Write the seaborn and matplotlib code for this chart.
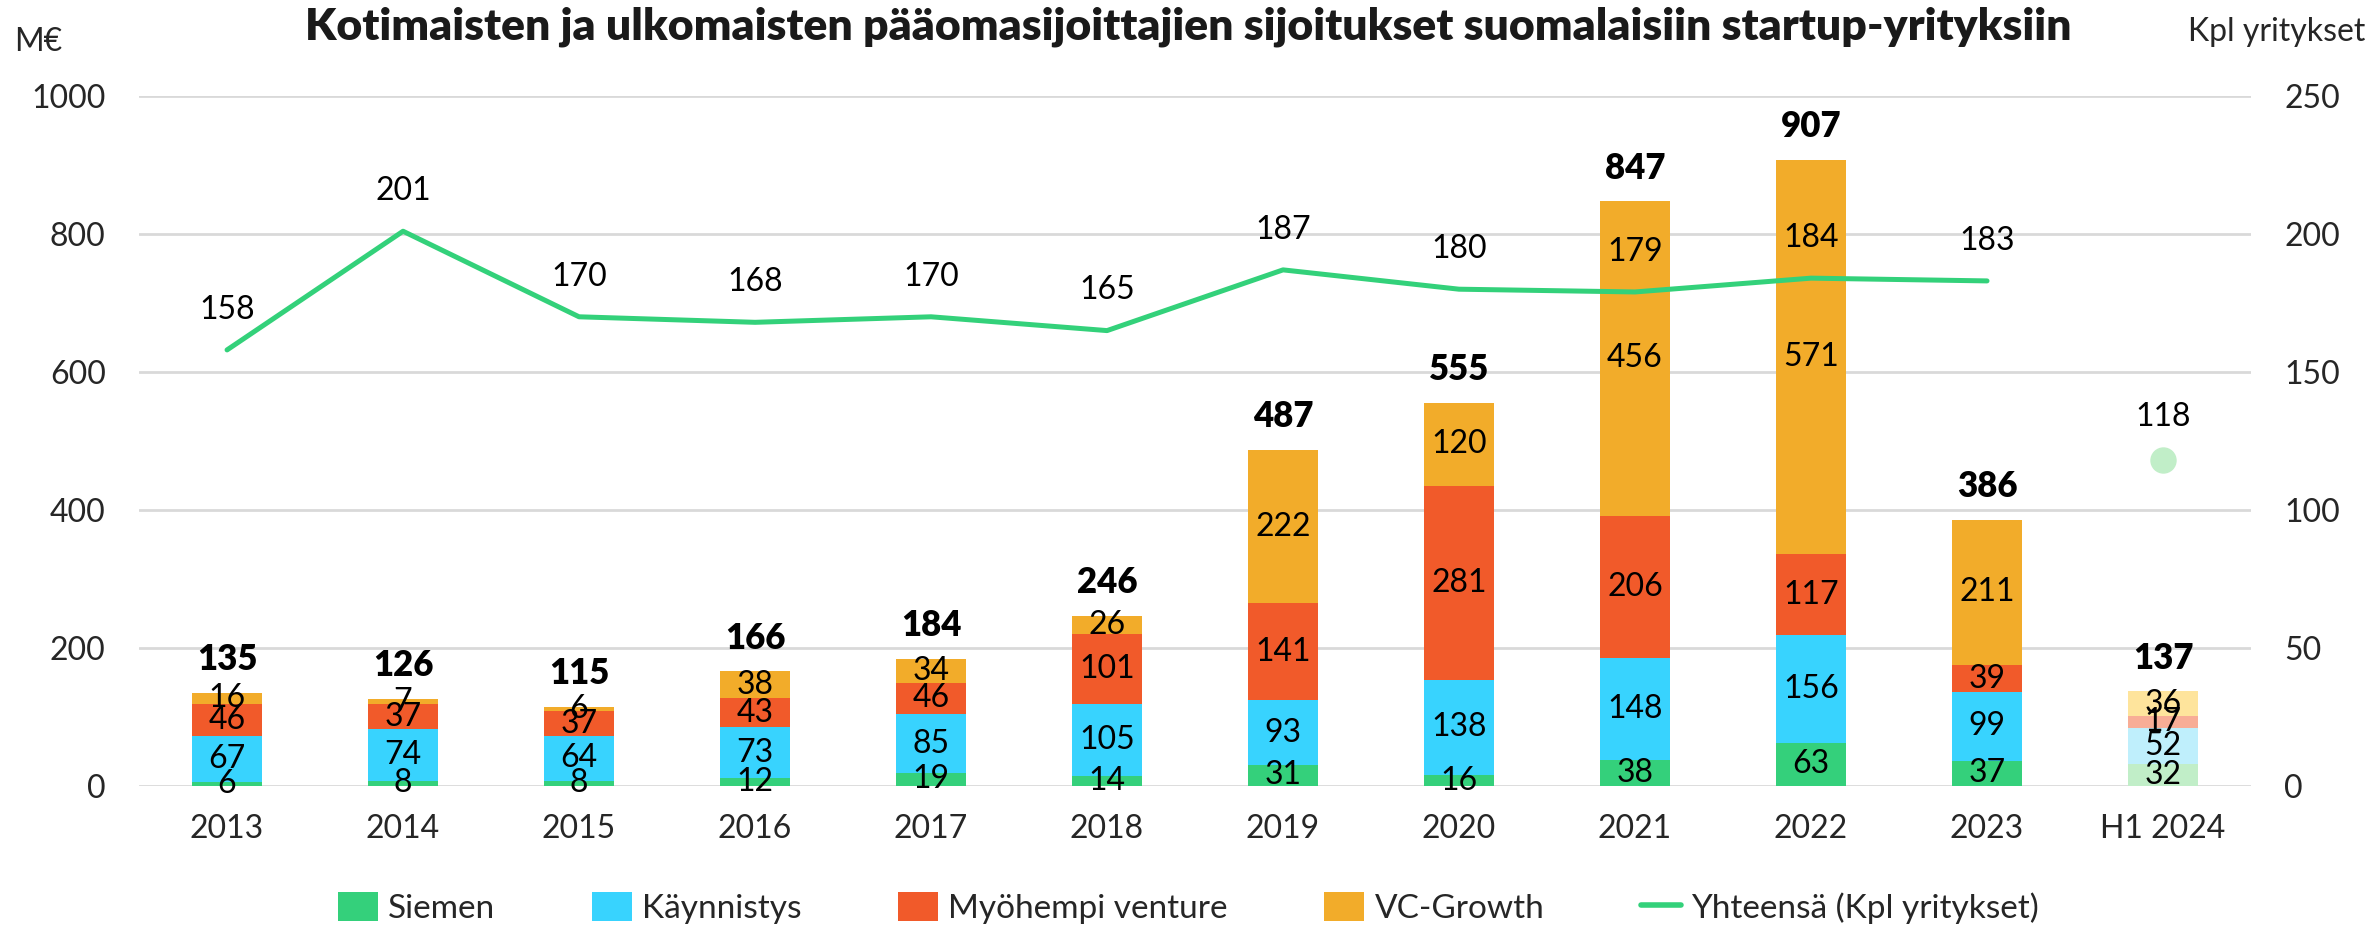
import numpy as np
import pandas as pd
import matplotlib
matplotlib.use("Agg")
import matplotlib.pyplot as plt
from matplotlib.patches import Patch
from matplotlib.lines import Line2D
import seaborn as sns

years = ["2013", "2014", "2015", "2016", "2017", "2018", "2019", "2020",
         "2021", "2022", "2023", "H1 2024"]
siemen = [6, 8, 8, 12, 19, 14, 31, 16, 38, 63, 37, 32]
kaynnistys = [67, 74, 64, 73, 85, 105, 93, 138, 148, 156, 99, 52]
myohempi = [46, 37, 37, 43, 46, 101, 141, 281, 206, 117, 39, 17]
vc_growth = [16, 7, 6, 38, 34, 26, 222, 120, 456, 571, 211, 36]
totals = [135, 126, 115, 166, 184, 246, 487, 555, 847, 907, 386, 137]
kpl = [158, 201, 170, 168, 170, 165, 187, 180, 179, 184, 183]
kpl_h1 = 118

series_names = ["Siemen", "Käynnistys", "Myöhempi venture", "VC-Growth"]
series_values = [siemen, kaynnistys, myohempi, vc_growth]
colors = ["#34D07B", "#38D3FE", "#F15A2A", "#F2AC2A"]
colors_light = ["#C1EEC8", "#BFEFFC", "#F8AD96", "#FEE49C"]
line_color = "#33D17A"

sns.set_theme(style="white")
plt.rcParams["font.family"] = ["Lato", "DejaVu Sans"]

fig = plt.figure(figsize=(23.77, 9.30), dpi=100)
ax = fig.add_axes([0.0585, 0.1548, 0.8885, 0.742])

# stacked bars: draw cumulative sums, tallest layer first
cum = np.cumsum(np.array(series_values), axis=0)
for i in range(len(series_names) - 1, -1, -1):
    df = pd.DataFrame({"year": years, "value": cum[i]})
    pal = {y: (colors_light[i] if y.startswith("H1") else colors[i]) for y in years}
    sns.barplot(data=df, x="year", y="value", hue="year", palette=pal,
                width=0.4, dodge=False, legend=False, ax=ax,
                saturation=1, linewidth=0, zorder=2)

# segment labels
for i in range(len(series_names)):
    for j, y in enumerate(years):
        v = series_values[i][j]
        bottom = cum[i][j] - v
        ax.text(j, bottom + v / 2, str(v), ha="center", va="center",
                fontsize=23, color="black", zorder=3)

# totals
for j, t in enumerate(totals):
    ax.annotate(str(t), (j, t), xytext=(0, 24), textcoords="offset points",
                ha="center", va="center", fontsize=25, fontweight="heavy",
                color="black", zorder=4)

ax.set_xlim(-0.5, len(years) - 0.5)
ax.set_ylim(0, 1000)
ax.set_yticks(range(0, 1001, 200))
ax.yaxis.grid(True, color="#D9D9D9", linewidth=2)
ax.set_axisbelow(True)
ax.set_xlabel("")
ax.set_ylabel("")
ax.tick_params(axis="x", labelsize=23, pad=20, length=0)
ax.tick_params(axis="y", labelsize=23, pad=24, length=0)
for s in ax.spines.values():
    s.set_visible(False)

ax2 = ax.twinx()
ax2.set_ylim(0, 250)
ax2.set_yticks(range(0, 251, 50))
ax2.tick_params(axis="y", labelsize=23, pad=24, length=0)
for s in ax2.spines.values():
    s.set_visible(False)
ax2.grid(False)

line_df = pd.DataFrame({"pos": np.arange(len(kpl)), "kpl": kpl})
sns.lineplot(data=line_df, x="pos", y="kpl", color=line_color, linewidth=3.6,
             ax=ax2, zorder=5)
for j, v in enumerate(kpl):
    ax2.annotate(str(v), (j, v), xytext=(0, 29), textcoords="offset points",
                 ha="center", va="center", fontsize=23,
                 color="black", zorder=6)
ax2.plot([len(years) - 1], [kpl_h1], marker="o", markersize=18,
         color=colors_light[0], linestyle="none", zorder=5)
ax2.annotate(str(kpl_h1), (len(years) - 1, kpl_h1), xytext=(0, 31),
             textcoords="offset points", ha="center", va="center",
             fontsize=23, color="black")
ax2.set_xlim(-0.5, len(years) - 0.5)
ax2.set_xlabel("")
ax2.set_ylabel("")

fig.text(0.5, 0.971, "Kotimaisten ja ulkomaisten pääomasijoittajien sijoitukset suomalaisiin startup-yrityksiin",
         ha="center", va="center", fontsize=32, fontweight="heavy", color="#1a1a1a")
fig.text(0.006, 0.955, "M€", ha="left", va="center", fontsize=23)
fig.text(0.995, 0.966, "Kpl yritykset", ha="right", va="center", fontsize=23)

handles = [Patch(facecolor=c, edgecolor="none") for c in colors]
handles.append(Line2D([0], [0], color=line_color, linewidth=4))
fig.legend(handles, series_names + ["Yhteensä (Kpl yritykset)"],
           loc="center", bbox_to_anchor=(0.5, 0.024), ncol=5, frameon=False,
           fontsize=24, handlelength=1.2, handleheight=1.0, handletextpad=0.3,
           columnspacing=2.9)

fig.savefig("out.png", dpi=100)
